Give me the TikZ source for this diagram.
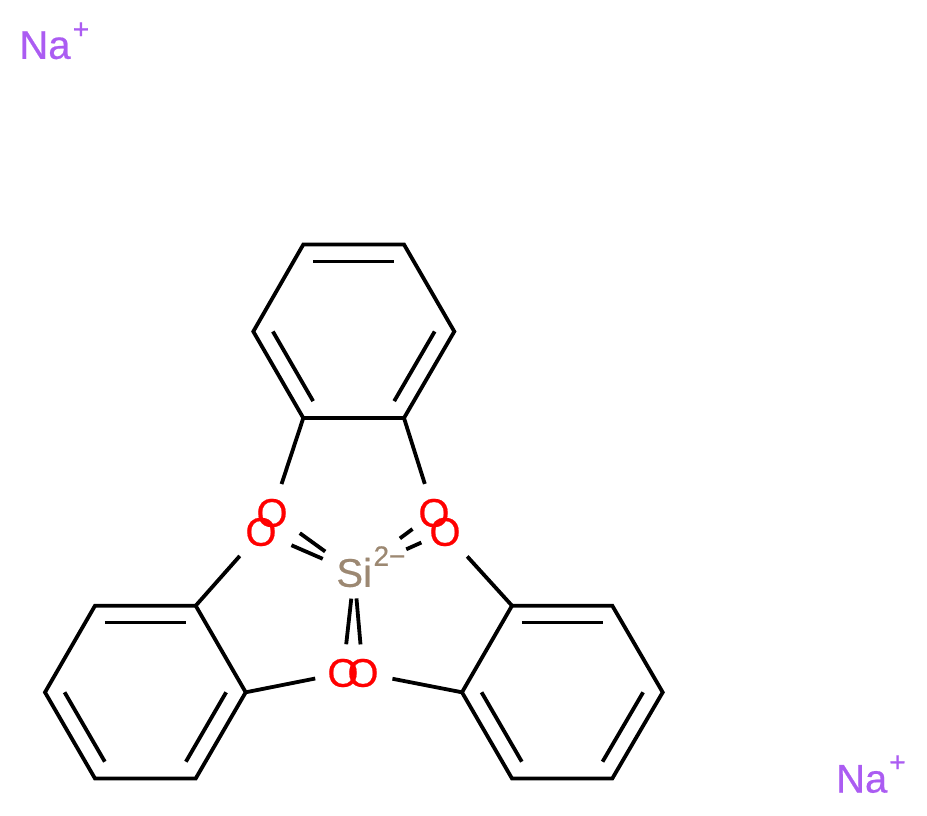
\documentclass[tikz,border=0pt]{standalone}
\usepackage{fontspec}
\setmainfont{Liberation Sans}
\newfontfamily\lblfont[FakeBold=0.5]{Liberation Sans}
\usetikzlibrary{calc}
\definecolor{oxy}{HTML}{FF0000}
\definecolor{sil}{HTML}{9C8872}
\definecolor{sod}{HTML}{AB5CF2}
\newcommand\innerbond[3]{\draw[bond] ($(#1)!.805!(#2)$) -- ($(#1)!.805!(#3)$);}
\tikzset{
  bond/.style={draw=black,line width=3.8pt,line cap=butt,line join=miter},
  atomO/.style={inner sep=0pt,text=oxy,font=\lblfont\fontsize{40}{44}\selectfont},
  atomSi/.style={inner sep=0pt,text=sil,font=\lblfont\fontsize{40}{44}\selectfont},
  atomNa/.style={inner sep=0pt,text=sod,font=\lblfont\fontsize{40}{44}\selectfont},
  chargeSi/.style={inner sep=0pt,text=sil,font=\lblfont\fontsize{28}{30}\selectfont},
  chargeNa/.style={inner sep=0pt,text=sod,font=\lblfont\fontsize{28}{30}\selectfont},
}
\begin{document}
\begin{tikzpicture}[x=1pt,y=-1pt]
\useasboundingbox (0,0) rectangle (927,816);
% top ring
\coordinate (t1) at (303.3,244.5);
\coordinate (t2) at (404,244.5);
\coordinate (t3) at (454.3,331.5);
\coordinate (t4) at (404,418);
\coordinate (t5) at (303.3,418);
\coordinate (t6) at (253.3,331.5);
\coordinate (tc) at (353.7,331.5);
% left ring
\coordinate (l1) at (95,605.7);
\coordinate (l2) at (195.7,605.7);
\coordinate (l3) at (245.7,692.3);
\coordinate (l4) at (195.7,778.5);
\coordinate (l5) at (95,778.5);
\coordinate (l6) at (45,692.3);
\coordinate (lc) at (145.4,692.3);
% right ring
\coordinate (r1) at (512,605.7);
\coordinate (r2) at (612.3,605.7);
\coordinate (r3) at (662.7,692.3);
\coordinate (r4) at (612.3,778.5);
\coordinate (r5) at (512,778.5);
\coordinate (r6) at (462,692.3);
\coordinate (rc) at (562.3,692.3);
% atoms
\node[atomO] (oa) at (272,513) {O};
\node[atomO] (ob) at (261,532) {O};
\node[atomO] (oc) at (434,513) {O};
\node[atomO] (od) at (445,532) {O};
\node[atomO] (oe) at (343,673) {O};
\node[atomO] (of) at (363,673) {O};
\node[atomSi] (si) at (354.2,572.5) {Si};
\node[chargeSi] (siq) at (389.5,556) {2−};
\node[atomNa] (na1) at (45,45.3) {Na};
\node[chargeNa] (na1q) at (81,30.5) {+};
\node[atomNa] (na2) at (861.7,779) {Na};
\node[chargeNa] (na2q) at (897.5,763.5) {+};
% rings
\draw[bond] (t1) -- (t2) -- (t3) -- (t4) -- (t5) -- (t6) -- cycle;
\draw[bond] (l1) -- (l2) -- (l3) -- (l4) -- (l5) -- (l6) -- cycle;
\draw[bond] (r1) -- (r2) -- (r3) -- (r4) -- (r5) -- (r6) -- cycle;
\innerbond{tc}{t1}{t2}
\innerbond{tc}{t3}{t4}
\innerbond{tc}{t5}{t6}
\innerbond{lc}{l1}{l2}
\innerbond{lc}{l3}{l4}
\innerbond{lc}{l5}{l6}
\innerbond{rc}{r1}{r2}
\innerbond{rc}{r3}{r4}
\innerbond{rc}{r5}{r6}
% ring to oxygen
\draw[bond,shorten >=30.5pt] (t5) -- (oa.center);
\draw[bond,shorten >=30.5pt] (t4) -- (oc.center);
\draw[bond,shorten >=32pt] (l2) -- (ob.center);
\draw[bond,shorten >=33pt] (r1) -- (od.center);
\draw[bond,shorten >=28.3pt] (l3) -- (oe.center);
\draw[bond,shorten >=30pt] (r6) -- (of.center);
% silicon to oxygen
\draw[bond,shorten <=35.8pt,shorten >=34.3pt] (si.center) -- (oa.center);
\draw[bond,shorten <=34.3pt,shorten >=33.2pt] (si.center) -- (ob.center);
\draw[bond,shorten <=57pt,shorten >=26.8pt] (si.center) -- (oc.center);
\draw[bond,shorten <=57pt,shorten >=25.9pt] (si.center) -- (od.center);
\draw[bond,shorten <=26.3pt,shorten >=28.9pt] (si.center) -- (oe.center);
\draw[bond,shorten <=26pt,shorten >=28.7pt] (si.center) -- (of.center);
\end{tikzpicture}
\end{document}
